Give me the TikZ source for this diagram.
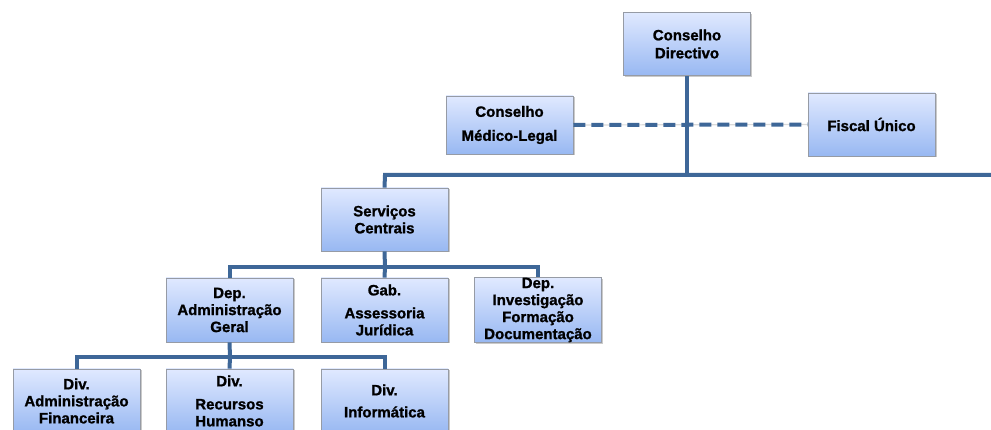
\documentclass[tikz,border=0pt]{standalone}
\usepackage{fontspec}
\setmainfont{Liberation Sans}[BoldFeatures={FakeBold=1.2}]
\usetikzlibrary{shadows}
\definecolor{linkblue}{RGB}{62,103,152}
\definecolor{boxtop}{RGB}{224,233,255}
\definecolor{boxbot}{RGB}{152,184,242}
\definecolor{boxline}{RGB}{150,155,165}
\tikzset{
  orgbox/.style={rectangle, draw=boxline, line width=0.8pt, top color=boxtop, bottom color=boxbot,
    minimum width=127pt, minimum height=63pt, inner sep=0pt, align=center,
    font=\fontsize{15}{17}\selectfont\bfseries,
    drop shadow={shadow xshift=1.5pt, shadow yshift=-1.5pt, opacity=0.35, fill=black!60}},
  link/.style={draw=linkblue, line width=4pt},
  dashlink/.style={draw=linkblue, line width=4pt, dash pattern=on 12pt off 6pt}
}
\begin{document}
\begin{tikzpicture}[x=1pt,y=-1pt]
\useasboundingbox (0,0) rectangle (991,430);
% boxes
\node[orgbox] (cd) at (687,44) {Conselho\\[1pt]Directivo};
\node[orgbox, minimum height=58pt] (cml) at (509.5,125) {Conselho\\[7pt]Médico-Legal};
\node[orgbox] (fu) at (871.5,124.5) {Fiscal Único};
\node[orgbox] (sc) at (384.5,219.5) {Serviços\\Centrais};
\node[orgbox, minimum height=64pt] (dag) at (229.5,310) {Dep.\\Administração\\Geral};
\node[orgbox, minimum height=64pt] (gab) at (384.5,310) {Gab.\\[6pt]Assessoria\\Jurídica};
\node[orgbox, minimum height=64pt] (dif) at (538,310) {Dep.\\Investigação\\Formação\\Documentação};
\node[orgbox, minimum height=64pt] (daf) at (76.5,401) {Div.\\Administração\\Financeira};
\node[orgbox, minimum height=64pt] (drh) at (229.5,401) {Div.\\[6pt]Recursos\\Humanso};
\node[orgbox, minimum height=64pt] (dinf) at (384.5,401) {Div.\\[5pt]Informática};
% coordinates
\coordinate (junc) at (687,175);
\coordinate (hl) at (385,175);
\coordinate (hr) at (993,175);
\coordinate (b1) at (385,267);
\coordinate (b2) at (230,357);
% connectors
\draw[draw=black!15, line width=1.2pt] (cml.east) -- (fu.west);
\draw[dashlink] (cml.east) -- (fu.west);
\draw[link] (cd.south) -- (junc);
\draw[link] (hr) -- (hl) -- (sc.north);
\draw[link] (sc.south) -- (b1);
\draw[link] (dag.north) |- (b1) -| (dif.north);
\draw[link] (b1) -- (gab.north);
\draw[link] (dag.south) -- (b2);
\draw[link] (daf.north) |- (b2) -| (dinf.north);
\draw[link] (b2) -- (drh.north);
\end{tikzpicture}
\end{document}
